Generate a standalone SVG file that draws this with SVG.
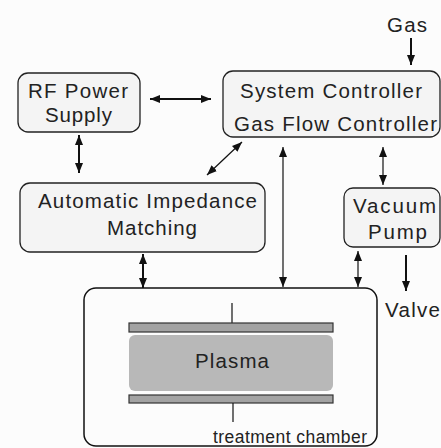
<svg xmlns="http://www.w3.org/2000/svg" width="441" height="448" viewBox="0 0 441 448">
<style>
.box{fill:#f4f4f4;stroke:#222;stroke-width:1.3}
.t{font-family:"Liberation Sans",Arial,sans-serif;font-size:20.5px;fill:#222}
.c{stroke:#111;stroke-width:2;fill:none}
.thin{stroke:#111;stroke-width:1.2;fill:none}
.el{fill:#a3a3a3;stroke:#333;stroke-width:1.2}
</style>
<defs>
<marker id="ah" viewBox="0 0 10 8" refX="10" refY="4" markerWidth="10" markerHeight="8" markerUnits="userSpaceOnUse" orient="auto-start-reverse">
<path d="M0,0 L10,4 L0,8 z" fill="#111"/>
</marker>
</defs>
<rect width="441" height="448" fill="#fcfcfc"/>
<g id="rf-power-supply">
<rect class="box" x="18" y="73" width="122" height="59" rx="10"/>
<text class="t" x="28" y="98" textLength="100" lengthAdjust="spacing">RF Power</text>
<text class="t" x="45" y="122" textLength="67" lengthAdjust="spacing">Supply</text>
</g>
<g id="system-controller">
<rect class="box" x="223" y="71" width="217" height="66" rx="10"/>
<text class="t" x="240" y="98" textLength="182" lengthAdjust="spacing">System Controller</text>
<text class="t" x="234" y="131" textLength="203" lengthAdjust="spacing">Gas Flow Controller</text>
</g>
<g id="gas">
<text class="t" x="387" y="32" textLength="40" lengthAdjust="spacing">Gas</text>
</g>
<g id="impedance-matching">
<rect class="box" x="20" y="183" width="245" height="69" rx="10"/>
<text class="t" x="38" y="208" textLength="219" lengthAdjust="spacing">Automatic Impedance</text>
<text class="t" x="107" y="235" textLength="90" lengthAdjust="spacing">Matching</text>
</g>
<g id="vacuum-pump">
<rect class="box" x="344" y="188" width="96" height="59" rx="9"/>
<text class="t" x="353" y="213" textLength="83" lengthAdjust="spacing">Vacuum</text>
<text class="t" x="368" y="239" textLength="59" lengthAdjust="spacing">Pump</text>
</g>
<g id="valve">
<text class="t" x="385" y="317" textLength="55" lengthAdjust="spacing">Valve</text>
</g>
<g id="treatment-chamber">
<rect x="84" y="288" width="293" height="158" rx="12" fill="#fcfcfc" stroke="#111" stroke-width="1.5"/>
<line class="thin" x1="232" y1="303" x2="232" y2="323"/>
<rect class="el" x="129" y="323" width="204" height="9"/>
<rect x="129" y="335" width="204" height="56" rx="6" fill="#b8b8b8"/>
<text class="t" x="195" y="368" textLength="74" lengthAdjust="spacing">Plasma</text>
<rect class="el" x="129" y="395" width="204" height="8"/>
<line class="thin" x1="233" y1="403" x2="233" y2="422"/>
<text class="t" x="213" y="443" style="font-size:17.5px" textLength="154" lengthAdjust="spacing">treatment chamber</text>
</g>
<g id="connectors">
<line class="c" x1="150" y1="99" x2="211" y2="99" marker-start="url(#ah)" marker-end="url(#ah)"/>
<line class="c" x1="411" y1="38" x2="411" y2="65" marker-end="url(#ah)"/>
<line class="c" x1="79" y1="135" x2="79" y2="173" marker-start="url(#ah)" marker-end="url(#ah)"/>
<line class="thin" x1="207" y1="175" x2="242" y2="142" marker-start="url(#ah)" marker-end="url(#ah)"/>
<line class="thin" x1="283" y1="147" x2="283" y2="287" marker-start="url(#ah)" marker-end="url(#ah)"/>
<line class="thin" x1="383" y1="147" x2="383" y2="185" marker-start="url(#ah)" marker-end="url(#ah)"/>
<line class="c" x1="143" y1="254" x2="143" y2="288" marker-start="url(#ah)" marker-end="url(#ah)"/>
<line class="thin" x1="358" y1="251" x2="358" y2="287" marker-start="url(#ah)" marker-end="url(#ah)"/>
<line class="c" x1="406" y1="255" x2="406" y2="291" marker-end="url(#ah)"/>
</g>
</svg>
